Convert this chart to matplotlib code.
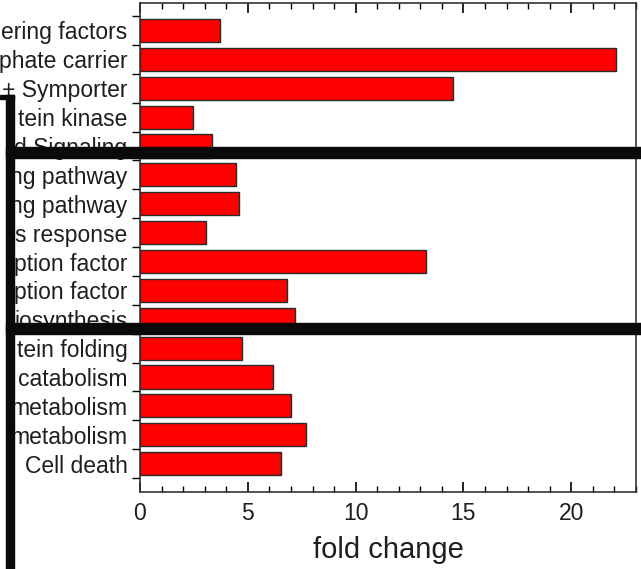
import numpy as np
import matplotlib
matplotlib.use("Agg")
import matplotlib.pyplot as plt
from matplotlib.patches import Rectangle
from matplotlib.ticker import MultipleLocator, FixedLocator

plt.rcParams['font.family'] = ['Liberation Sans', 'DejaVu Sans']

# etichette (tagliate a sinistra come nell'immagine)
labels = ["ering factors", "phate carrier", "+ Symporter", "tein kinase",
          "d Signaling", "ng pathway", "ng pathway", "s response",
          "ption factor", "ption factor", "iosynthesis", "tein folding",
          "catabolism", "metabolism", "metabolism", "Cell death"]
fold = [3.72, 22.06, 14.5, 2.48, 3.32, 4.43, 4.59, 3.04,
        13.27, 6.82, 7.19, 4.74, 6.17, 6.99, 7.69, 6.56]

W, H = 641, 569
fig = plt.figure(figsize=(W/100, H/100), dpi=100)
ax = fig.add_axes([140/W, 1-492/H, 496/W, 489/H])

y = np.arange(len(labels))
ax.barh(y, fold, height=0.8, color='#ff0000', edgecolor='#2a2a2a', linewidth=1.0)

ax.set_xlim(0, 23)
ax.set_ylim(15.98, -0.95)
ax.set_yticks(y)
ax.set_yticklabels(labels, fontsize=16.5, color='#1e1e1e')
ax.yaxis.set_minor_locator(FixedLocator(np.arange(-0.5, 16, 1)))
ax.tick_params(axis='y', which='major', length=0, pad=9)
ax.tick_params(axis='y', which='minor', length=6, width=1, direction='out')

ax.xaxis.set_major_locator(MultipleLocator(5))
ax.xaxis.set_minor_locator(MultipleLocator(1))
ax.tick_params(axis='x', which='major', length=7, width=1.2, direction='in',
               top=True, labelsize=16.5, labelcolor='#1e1e1e', pad=7)
ax.tick_params(axis='x', which='minor', length=4, width=1, direction='in', top=True)
ax.set_xlabel('fold change', fontsize=21, color='#1e1e1e', labelpad=8)

for s in ax.spines.values():
    s.set_color('#333333')
    s.set_linewidth(1.2)

# cornice nera sovrapposta
def box(x0, y0, x1, y1):
    fig.add_artist(Rectangle((x0/W, 1-y1/H), (x1-x0)/W, (y1-y0)/H,
                             transform=fig.transFigure, color='#0a0a0a',
                             clip_on=False, zorder=10))

box(6, 95, 14, 569)
box(0, 95, 14, 99)
box(6, 147, 641, 158)
box(6, 323, 641, 334)

fig.savefig('out.png', dpi=100)
